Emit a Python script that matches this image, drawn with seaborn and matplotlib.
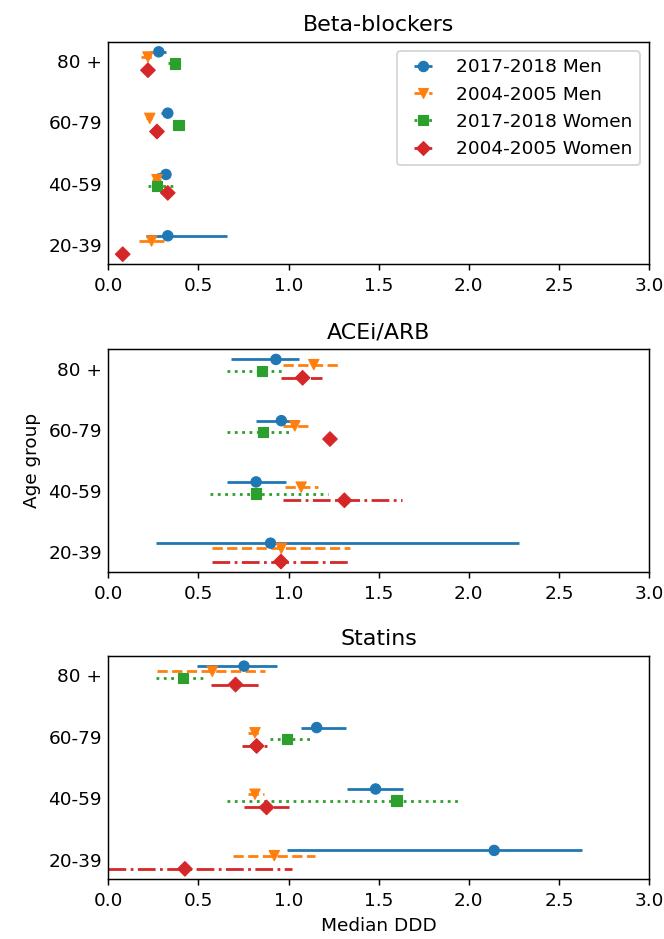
import numpy as np
import pandas as pd
import matplotlib
matplotlib.use("Agg")
import matplotlib.pyplot as plt
import seaborn as sns
from matplotlib.container import ErrorbarContainer
from matplotlib.lines import Line2D

# ---------------- data ----------------
age_groups = ["80 +", "60-79", "40-59", "20-39"]
series = ["2017-2018 Men", "2004-2005 Men", "2017-2018 Women", "2004-2005 Women"]
drugs = ["Beta-blockers", "ACEi/ARB", "Statins"]
nan = np.nan

# values listed in age-group order: 80 +, 60-79, 40-59, 20-39
bb_median = {
    "2017-2018 Men":   [0.28, 0.33, 0.32, 0.33],
    "2004-2005 Men":   [0.22, 0.23, 0.27, 0.24],
    "2017-2018 Women": [0.37, 0.39, 0.27, nan],
    "2004-2005 Women": [0.22, 0.27, 0.33, 0.08],
}
bb_low = {
    "2017-2018 Men":   [0.23, 0.29, 0.27, 0.21],
    "2004-2005 Men":   [0.18, 0.21, 0.245, 0.17],
    "2017-2018 Women": [0.33, 0.36, 0.22, nan],
    "2004-2005 Women": [0.20, 0.25, 0.31, 0.06],
}
bb_high = {
    "2017-2018 Men":   [0.32, 0.35, 0.34, 0.66],
    "2004-2005 Men":   [0.25, 0.245, 0.29, 0.31],
    "2017-2018 Women": [0.40, 0.425, 0.36, nan],
    "2004-2005 Women": [0.24, 0.29, 0.35, 0.10],
}

ace_median = {
    "2017-2018 Men":   [0.93, 0.96, 0.82, 0.90],
    "2004-2005 Men":   [1.14, 1.035, 1.07, 0.96],
    "2017-2018 Women": [0.854, 0.86, 0.82, nan],
    "2004-2005 Women": [1.078, 1.23, 1.31, 0.958],
}
ace_low = {
    "2017-2018 Men":   [0.68, 0.82, 0.66, 0.265],
    "2004-2005 Men":   [0.967, 0.967, 0.98, 0.573],
    "2017-2018 Women": [0.657, 0.657, 0.564, nan],
    "2004-2005 Women": [0.958, 1.20, 0.971, 0.573],
}
ace_high = {
    "2017-2018 Men":   [1.06, 1.06, 0.985, 2.28],
    "2004-2005 Men":   [1.28, 1.11, 1.165, 1.34],
    "2017-2018 Women": [0.967, 1.017, 1.22, nan],
    "2004-2005 Women": [1.183, 1.26, 1.627, 1.34],
}

st_median = {
    "2017-2018 Men":   [0.753, 1.156, 1.483, 2.141],
    "2004-2005 Men":   [0.577, 0.814, 0.814, 0.921],
    "2017-2018 Women": [0.416, 0.993, 1.60, nan],
    "2004-2005 Women": [0.706, 0.823, 0.878, 0.425],
}
st_low = {
    "2017-2018 Men":   [0.49, 1.067, 1.322, 0.989],
    "2004-2005 Men":   [0.272, 0.777, 0.777, 0.69],
    "2017-2018 Women": [0.265, 0.897, 0.66, nan],
    "2004-2005 Women": [0.568, 0.74, 0.753, 0.0],
}
st_high = {
    "2017-2018 Men":   [0.934, 1.318, 1.633, 2.629],
    "2004-2005 Men":   [0.869, 0.851, 0.864, 1.146],
    "2017-2018 Women": [0.524, 1.123, 1.951, nan],
    "2004-2005 Women": [0.837, 0.879, 1.004, 1.017],
}

drug_data = {
    "Beta-blockers": (bb_median, bb_low, bb_high),
    "ACEi/ARB": (ace_median, ace_low, ace_high),
    "Statins": (st_median, st_low, st_high),
}

# ---------------- style ----------------
palette = sns.color_palette("tab10", 4)
markers = ["o", "v", "s", "D"]
linestyles = ["-", "--", ":", "-."]
offsets_down = [-0.15, -0.065, 0.04, 0.15]
MS = 5.6

rows = []
for drug in drugs:
    med, lo, hi = drug_data[drug]
    for si, s in enumerate(series):
        for ai, age in enumerate(age_groups):
            rows.append({
                "drug": drug, "series": s, "age": age,
                "median": med[s][ai], "low": lo[s][ai], "high": hi[s][ai],
                "ypos": (len(age_groups) - 1 - ai) - offsets_down[si],
            })
df = pd.DataFrame(rows)

DPI = 133
fig = plt.figure(figsize=(664 / DPI, 939 / DPI), dpi=DPI)
rects = [
    [0.1631, 0.7185, 0.8143, 0.2371],
    [0.1631, 0.3912, 0.8143, 0.2368],
    [0.1631, 0.0639, 0.8143, 0.2375],
]

for k, drug in enumerate(drugs):
    ax = fig.add_axes(rects[k])
    d = df[df["drug"] == drug]
    handles = []
    for si, s in enumerate(series):
        sub = d[d["series"] == s]
        eb = ax.errorbar(
            sub["median"], sub["ypos"],
            xerr=[sub["median"] - sub["low"], sub["high"] - sub["median"]],
            fmt="none", ecolor=palette[si], elinewidth=1.5, zorder=2,
        )
        coll = eb.lines[2][0]
        coll.set_linestyle(linestyles[si])
        mk = Line2D([], [], linestyle="none", marker=markers[si],
                    color=palette[si], markersize=MS, markeredgewidth=0.6)
        handles.append(ErrorbarContainer((mk, (), (coll,)), has_xerr=True,
                                         has_yerr=False, label=s))
    sns.scatterplot(
        data=d, x="median", y="ypos", hue="series", style="series",
        hue_order=series, style_order=series, palette=palette,
        markers=dict(zip(series, markers)), s=MS ** 2, edgecolor="face",
        linewidth=0.6, legend=False, ax=ax, zorder=3,
    )
    ax.set_xlim(0, 3)
    ax.set_ylim(-0.315, 3.315)
    ax.set_xticks([0, 0.5, 1.0, 1.5, 2.0, 2.5, 3.0])
    ax.set_yticks([3, 2, 1, 0])
    ax.set_yticklabels(age_groups)
    ax.tick_params(axis="y", length=0)
    ax.set_title(drug, fontsize=12)
    ax.set_xlabel("Median DDD" if k == 2 else "")
    ax.set_ylabel("Age group" if k == 1 else "")
    if k == 0:
        ax.legend(handles=handles, loc="upper right")

fig.savefig("out.png", dpi=DPI)
